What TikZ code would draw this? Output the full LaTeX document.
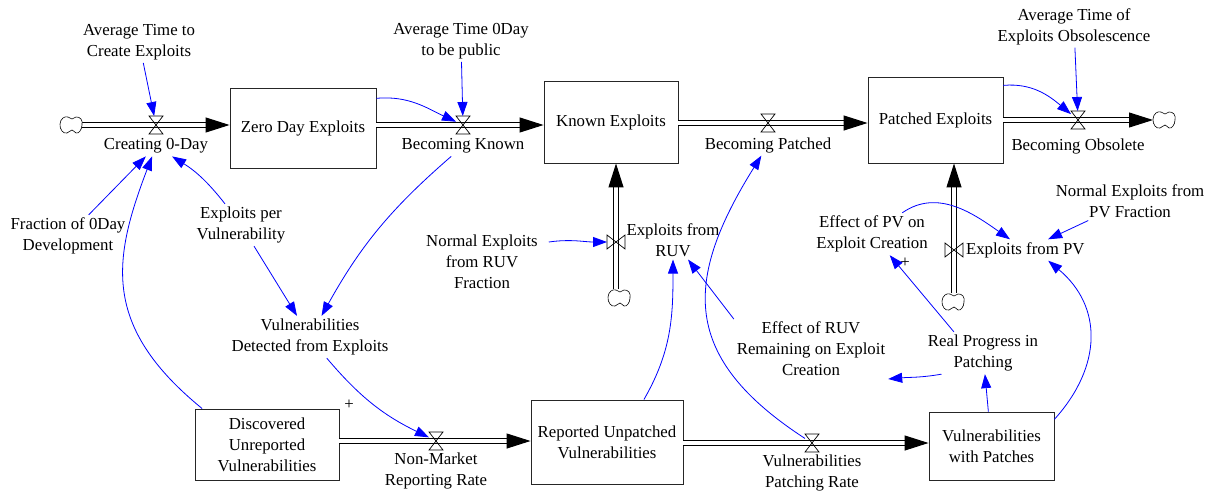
\documentclass[tikz,border=0pt]{standalone}
\usepackage{fontspec}
\setmainfont{Liberation Serif}
\usetikzlibrary{arrows.meta}
\newcommand\diagfont{\fontsize{16.8}{21}\selectfont}

\tikzset{
  var/.style={align=center, inner sep=0pt, outer sep=3pt},
  stockbox/.style={draw=black!85, line width=0.9pt, fill=white, align=center, inner sep=2pt},
  link/.style={draw=blue, line width=0.8pt, -{Triangle[length=14pt,width=10pt]}},
  pipe/.style={draw=black, line width=1pt, double=white, double distance=3.5pt,
               -{Triangle[length=24pt,width=15pt]}},
  valveh/.style={inner sep=0pt, outer sep=0pt, minimum width=14pt, minimum height=18pt},
  valvev/.style={inner sep=0pt, outer sep=0pt, minimum width=18pt, minimum height=14pt},
  cloudnode/.style={inner sep=0pt, outer sep=0pt, minimum width=22pt, minimum height=18pt},
  cloudshape/.pic={
    \draw[line width=0.6pt, fill=white] plot[smooth cycle, tension=0.8] coordinates
      {(-11,1) (-8,7) (-3,8) (1,6) (5,8) (10,6) (11,0) (9,-6) (5,-8) (1,-5) (-4,-8) (-9,-6)};
  },
}

\begin{document}
\begin{tikzpicture}[x=1pt, y=1pt, font=\diagfont]
\useasboundingbox (0,0) rectangle (1206,-490);

% stocks
\node[stockbox, minimum width=146pt, minimum height=80pt] (zde) at (303,-128) {Zero Day Exploits};
\node[stockbox, minimum width=134pt, minimum height=82pt] (ke) at (611,-122) {Known Exploits};
\node[stockbox, minimum width=135pt, minimum height=86pt] (pe) at (935.5,-120) {Patched Exploits};
\node[stockbox, minimum width=144pt, minimum height=71pt] (duv) at (267,-444.5) {Discovered\\Unreported\\Vulnerabilities};
\node[stockbox, minimum width=152pt, minimum height=84pt] (ruv) at (607,-442) {Reported Unpatched\\Vulnerabilities};
\node[stockbox, minimum width=125pt, minimum height=68pt] (vwp) at (991.5,-446) {Vulnerabilities\\with Patches};

% sources and sinks
\node[cloudnode] (c1) at (71,-125) {};
\node[cloudnode] (c2) at (1164,-120) {};
\node[cloudnode] (c3) at (619,-298) {};
\node[cloudnode] (c4) at (953,-302) {};

% valves
\node[valveh] (v1) at (156,-125) {};
\node[valveh] (v2) at (463,-125) {};
\node[valveh] (v3) at (768,-123) {};
\node[valveh] (v4) at (1078,-120) {};
\node[valvev] (v5) at (616,-242) {};
\node[valvev] (v6) at (954,-250) {};
\node[valveh] (v7) at (436,-441) {};
\node[valveh] (v8) at (812,-443) {};

% flow pipes
\draw[pipe] (c1) -- (c1 -| zde.west);
\draw[pipe] (zde.east |- v2) -- (v2 -| ke.west);
\draw[pipe] (ke.east |- v3) -- (v3 -| pe.west);
\draw[pipe] (pe.east |- v4) -- (c2);
\draw[pipe] (v5 |- c3.north) -- (v5 |- ke.south);
\draw[pipe] (v6 |- c4.north) -- (v6 |- pe.south);
\draw[pipe] (duv.east |- v7) -- (v7 -| ruv.west);
\draw[pipe] (ruv.east |- v8) -- (v8 -| vwp.west);

\foreach \v in {v1,v2,v3,v4,v7,v8}
  \draw[line width=0.7pt] (\v.north west) -- (\v.north east) -- (\v.south west) -- (\v.south east) -- cycle;
\foreach \v in {v5,v6}
  \draw[line width=0.7pt] (\v.north west) -- (\v.south west) -- (\v.north east) -- (\v.south east) -- cycle;
\foreach \c in {c1,c2,c3,c4}
  \pic at (\c) {cloudshape};

% variables and flow names
\node[var] (avgcreate) at (139,-42) {Average Time to\\Create Exploits};
\node[var] (c0l) at (156,-146) {Creating 0-Day};
\node[var] (avg0day) at (461,-41) {Average Time 0Day\\to be public};
\node[var] (bkl) at (463,-146) {Becoming Known};
\node[var] (bpl) at (768,-145) {Becoming Patched};
\node[var] (bol) at (1078,-146) {Becoming Obsolete};
\node[var] (avgobs) at (1074,-26.5) {Average Time of\\Exploits Obsolescence};
\node[var] (f0d) at (68,-236) {Fraction of 0Day\\Development};
\node[var] (epv) at (241,-225) {Exploits per\\Vulnerability};
\node[var] (vdfe) at (310,-337) {Vulnerabilities\\Detected from Exploits};
\node[var] (nexruv) at (482,-262) {Normal Exploits\\from RUV\\Fraction};
\node[var] (erl) at (673,-240) {Exploits from\\RUV};
\node[var] (effruv) at (811,-349) {Effect of RUV\\Remaining on Exploit\\Creation};
\node[var] (nexpv) at (1130,-201) {Normal Exploits from\\PV Fraction};
\node[var] (effpv) at (872,-234) {Effect of PV on\\Exploit Creation};
\node[var, anchor=west] (epvl) at (963,-250) {Exploits from PV};
\node[var] (rp) at (983,-353) {Real Progress in\\Patching};
\node[var] (nmr) at (436,-471) {Non-Market\\Reporting Rate};
\node[var] (vpr) at (812,-473) {Vulnerabilities\\Patching Rate};
\node[var] (plus1) at (349,-405) {+};
\node[var] (plus2) at (905,-263) {+};

% information links
\draw[link] (avgcreate) -- (v1);
\draw[link] (avg0day) -- (v2);
\draw[link] (avgobs) -- (v4);
\draw[link] (zde.22) to[out=5, in=155] (v2);
\draw[link] (pe.27) to[out=5, in=140] (v4);
\draw[link] ([xshift=8pt]nexruv.east |- v5) to[out=8, in=180] (v5);
\draw[link] (effpv) to[out=35, in=145] (epvl);
\draw[link] (nexpv) -- (epvl);
\draw[link] (rp.144) -- (effpv);
\draw[link] (rp.207) to[out=190, in=5] (effruv.south east);
\draw[link] (vwp) -- (rp);
\draw[link] (vwp.23) to[out=48, in=-40, looseness=1.15] (epvl.-25);
\draw[link] (effruv.north west) -- (erl);
\draw[link] (ruv.49) to[out=60, in=-90] (erl);
\draw[link] (v8) to[out=147, in=238, looseness=1.32] (bpl);
\draw[link] (duv.151) .. controls (101,-326) and (113,-259) .. (c0l);
\draw[link] (f0d) -- (c0l);
\draw[link] (epv) to[bend right=10] (c0l);
\draw[link] (epv) -- (vdfe);
\draw[link] (bkl) to[bend right=10] (vdfe);
\draw[link] (vdfe) to[bend right=12] (v7);
\end{tikzpicture}
\end{document}
